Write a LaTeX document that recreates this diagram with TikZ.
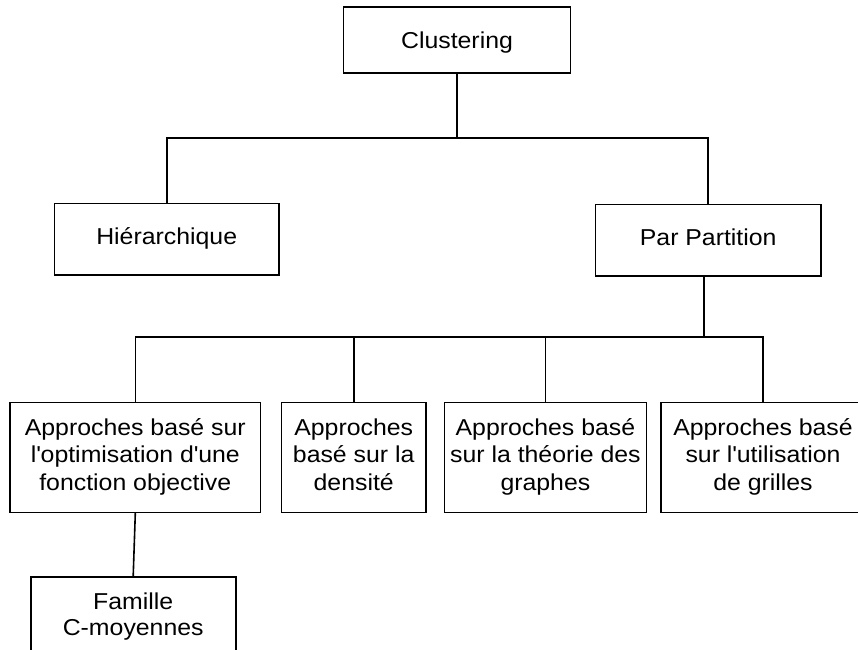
\documentclass[tikz,border=0pt]{standalone}
\usepackage{fontspec}
\setmainfont{Liberation Sans}[FakeStretch=1.08]
\newcommand{\fstrut}{\rule{0pt}{18pt}}
\newcommand{\lstrut}{\rule[-7.8pt]{0pt}{7.8pt}}
\newcommand{\apo}{\textquotesingle}
\begin{document}
\begin{tikzpicture}[x=1pt,y=-1pt,
  box/.style={draw, line width=1.6pt, inner sep=0pt, align=center,
    font=\fontsize{23}{27.5}\selectfont},
  one/.style={text height=16pt, text depth=6pt},
  txt/.style={inner sep=0pt, align=center, font=\fontsize{23}{26}\selectfont},
  conn/.style={line width=1.6pt, line cap=rect}]
\useasboundingbox (0,0) rectangle (858,649);
\clip (0,0) rectangle (858,649);
\fill[white] (0,0) rectangle (858,649);
% boxes
\node[box, text height=20pt, text depth=3pt, minimum width=227pt, minimum height=66pt] (clus) at (457,39.7) {Clustering};
\node[box, one, minimum width=224.7pt, minimum height=71.7pt] (hier) at (166.7,239.2) {Hiérarchique};
\node[box, one, minimum width=225.7pt, minimum height=71.4pt] (part) at (708.2,240) {Par Partition};
\node[box, minimum width=250.5pt, minimum height=110pt] (a1) at (135.3,457.6) {\fstrut Approches basé sur\\l\apo optimisation d\apo une\\fonction objective\lstrut};
\node[box, minimum width=144.3pt, minimum height=110pt] (a2) at (353.7,457.6) {\fstrut Approches\\basé sur la\\densité\lstrut};
\node[box, minimum width=202.2pt, minimum height=110pt] (a3) at (545.4,457.6) {\fstrut Approches basé\\sur la théorie des\\graphes\lstrut};
\node[box, minimum width=204pt, minimum height=110pt] (a4) at (763,457.6) {\fstrut Approches basé\\sur l\apo utilisation\\de grilles\lstrut};
\node[box, minimum width=205pt, minimum height=103pt] (fam) at (133.2,628.2) {};
\node[txt] (famt) at (133.2,616.9) {\fstrut Famille\\C-moyennes\lstrut};
% connectors
\coordinate (j1) at (457,137.7);
\coordinate (j2) at (703.7,336.7);
\draw[conn] (clus.south) -- (j1);
\draw[conn] (hier.north) |- (j1) -| (part.north);
\draw[conn] (part.south -| j2) -- (j2);
\draw[conn] (a1.north) |- (j2) -| (a4.north);
\draw[conn] (a2.north) -- (a2.north |- j2);
\draw[conn] (a3.north) -- (a3.north |- j2);
\draw[conn] (a1.south) -- (fam.north);
\end{tikzpicture}
\end{document}
